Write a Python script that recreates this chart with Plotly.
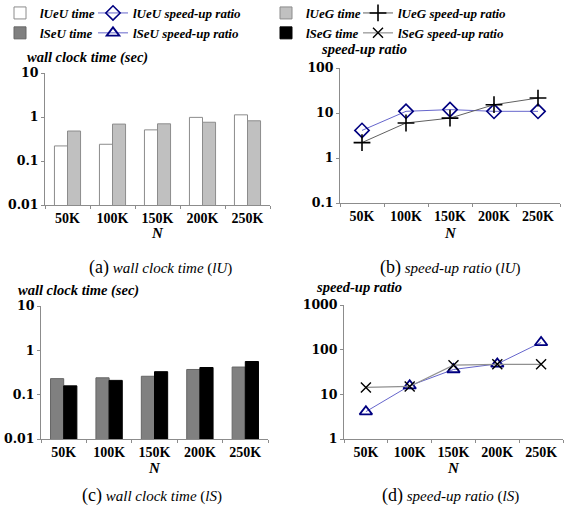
import plotly.graph_objects as go

# ---------------- data ----------------
categories = ["50K", "100K", "150K", "200K", "250K"]

lUeU_time = [0.22, 0.24, 0.51, 0.98, 1.12]
lUeG_time = [0.48, 0.69, 0.70, 0.76, 0.82]
lSeU_time = [0.23, 0.24, 0.26, 0.37, 0.42]
lSeG_time = [0.158, 0.21, 0.33, 0.41, 0.56]

lUeU_ratio = [4.1, 10.9, 11.9, 10.9, 10.9]
lUeG_ratio = [2.2, 6.0, 7.7, 15.3, 21.5]
lSeU_ratio = [4.1, 15.6, 36, 48, 145]
lSeG_ratio = [14.3, 15.0, 45, 47, 47]

time_ticks = [0.01, 0.1, 1, 10]
time_ticktext = ["0.01", "0.1", "1", "10"]
ratioU_ticks = [0.1, 1, 10, 100]
ratioU_ticktext = ["0.1", "1", "10", "100"]
ratioS_ticks = [1, 10, 100, 1000]
ratioS_ticktext = ["1", "10", "100", "1000"]

# ---------------- layout helpers ----------------
W, H = 577, 514
def px(x):
    return x / W
def py(y):
    return 1 - y / H

SERIF = "Liberation Serif"
NAVY = "#000080"
BLUE_LINE = "#6666cc"
GREY_LINE = "#606060"

fig = go.Figure()

bar_line = dict(color="#8c8c8c", width=1)

fig.add_trace(go.Bar(x=categories, y=lUeU_time, name="lUeU time",
                     marker=dict(color="white", line=bar_line),
                     xaxis="x", yaxis="y", legend="legend"))
fig.add_trace(go.Bar(x=categories, y=lUeG_time, name="lUeG time",
                     marker=dict(color="#c0c0c0", line=bar_line),
                     xaxis="x", yaxis="y", legend="legend3"))
fig.add_trace(go.Bar(x=categories, y=lSeU_time, name="lSeU time",
                     marker=dict(color="#808080", line=dict(color="#666666", width=1)),
                     xaxis="x3", yaxis="y3", legend="legend"))
fig.add_trace(go.Bar(x=categories, y=lSeG_time, name="lSeG time",
                     marker=dict(color="black", line=dict(color="black", width=1)),
                     xaxis="x3", yaxis="y3", legend="legend3"))

fig.add_trace(go.Scatter(x=categories, y=lUeU_ratio, name="lUeU speed-up ratio",
                         mode="lines+markers",
                         line=dict(color=BLUE_LINE, width=1),
                         marker=dict(symbol="diamond-open", size=11, color=NAVY,
                                     line=dict(color=NAVY, width=1.6)),
                         xaxis="x2", yaxis="y2", legend="legend2"))
fig.add_trace(go.Scatter(x=categories, y=lUeG_ratio, name="lUeG speed-up ratio",
                         mode="lines+markers",
                         line=dict(color=GREY_LINE, width=1),
                         marker=dict(symbol="cross-thin", size=12, color="black",
                                     line=dict(color="black", width=1.6)),
                         xaxis="x2", yaxis="y2", legend="legend4"))
fig.add_trace(go.Scatter(x=categories, y=lSeU_ratio, name="lSeU speed-up ratio",
                         mode="lines+markers",
                         line=dict(color=BLUE_LINE, width=1),
                         marker=dict(symbol="triangle-up-open", size=11, color=NAVY,
                                     line=dict(color=NAVY, width=1.8)),
                         xaxis="x4", yaxis="y4", legend="legend2"))
fig.add_trace(go.Scatter(x=categories, y=lSeG_ratio, name="lSeG speed-up ratio",
                         mode="lines+markers",
                         line=dict(color="#909090", width=1.2),
                         marker=dict(symbol="x-thin", size=10, color="black",
                                     line=dict(color="black", width=1.4)),
                         xaxis="x4", yaxis="y4", legend="legend4"))

# ---------------- axes ----------------
xtickfont = dict(family=SERIF, size=14, color="black", weight="bold")
ytickfont = dict(family="DejaVu Serif", size=12.5, color="black", weight="bold")

def xax(x0, x1, anchor):
    return dict(domain=[px(x0), px(x1)], anchor=anchor, type="category",
                range=[-0.5, 4.5], showline=True, linecolor="#8c8c8c", linewidth=1,
                ticks="outside", ticklen=3, tickcolor="#8c8c8c", tickson="boundaries",
                showgrid=False, zeroline=False, tickfont=xtickfont, fixedrange=True,
                automargin=False)

def yax(y_top, y_bot, anchor, rng, tv, tt):
    return dict(domain=[py(y_bot), py(y_top)], anchor=anchor, type="log",
                range=rng, tickvals=tv, ticktext=tt, showline=True,
                linecolor="#8c8c8c", linewidth=1, ticks="outside", ticklen=3,
                tickcolor="#8c8c8c", showgrid=False, zeroline=False,
                tickfont=ytickfont, fixedrange=True, automargin=False)

fig.update_layout(
    xaxis=xax(45, 270, "y"),
    yaxis=yax(73, 205, "x", [-2, 1], time_ticks, time_ticktext),
    xaxis2=xax(340, 560, "y2"),
    yaxis2=yax(68, 203, "x2", [-1, 2], ratioU_ticks, ratioU_ticktext),
    xaxis3=xax(41, 268, "y3"),
    yaxis3=yax(306, 439, "x3", [-2, 1], time_ticks, time_ticktext),
    xaxis4=xax(344, 563, "y4"),
    yaxis4=yax(305, 439, "x4", [0, 3], ratioS_ticks, ratioS_ticktext),
)

# ---------------- legends ----------------
legfont = dict(family=SERIF, size=13, color="black", weight="bold", style="italic")
def leg(xpix):
    return dict(x=px(xpix), y=py(-2), xanchor="left", yanchor="top",
                orientation="v", font=legfont, bgcolor="rgba(0,0,0,0)",
                borderwidth=0, tracegroupgap=0, itemwidth=30)

fig.update_layout(
    legend=leg(0), legend2=leg(93), legend3=leg(266), legend4=leg(358),
    showlegend=True,
)

# ---------------- annotations ----------------
titlefont = dict(family=SERIF, size=14.5, color="black", weight="bold", style="italic")
nfont = dict(family=SERIF, size=15, color="black", weight="bold", style="italic")
capfont = dict(family=SERIF, size=15, color="black")

ann = []
def add_text(text, x, y, font, xanchor="left"):
    ann.append(dict(text=text, x=px(x), y=py(y), xref="paper", yref="paper",
                    xanchor=xanchor, yanchor="middle", showarrow=False, font=font))

add_text("wall clock time (sec)", 25, 57, titlefont)
add_text("speed-up ratio", 319, 49, titlefont)
add_text("wall clock time (sec)", 16, 290, titlefont)
add_text("speed-up ratio", 314, 287, titlefont)

add_text("N", 157, 233, nfont, "center")
add_text("N", 450, 233, nfont, "center")
add_text("N", 154, 468, nfont, "center")
add_text("N", 453, 468, nfont, "center")

def caption(letter, txt, sub):
    return ("<span style='font-size:18px'>(" + letter + ")</span> "
            "<i>" + txt + "</i> (<i>" + sub + "</i>)")

add_text(caption("a", "wall clock time", "lU"), 160, 267, capfont, "center")
add_text(caption("b", "speed-up ratio", "lU"), 450, 267, capfont, "center")
add_text(caption("c", "wall clock time", "lS"), 152, 495, capfont, "center")
add_text(caption("d", "speed-up ratio", "lS"), 450, 495, capfont, "center")

fig.update_layout(
    annotations=ann,
    width=W, height=H, margin=dict(l=0, r=0, t=0, b=0, pad=0, autoexpand=False),
    paper_bgcolor="white", plot_bgcolor="white",
    barmode="group", bargap=0.42, bargroupgap=0,
    font=dict(family=SERIF, color="black"),
)

fig.write_html("out.html", config={"displayModeBar": False},
               post_script="document.body.style.margin='0';document.body.style.padding='0';")
